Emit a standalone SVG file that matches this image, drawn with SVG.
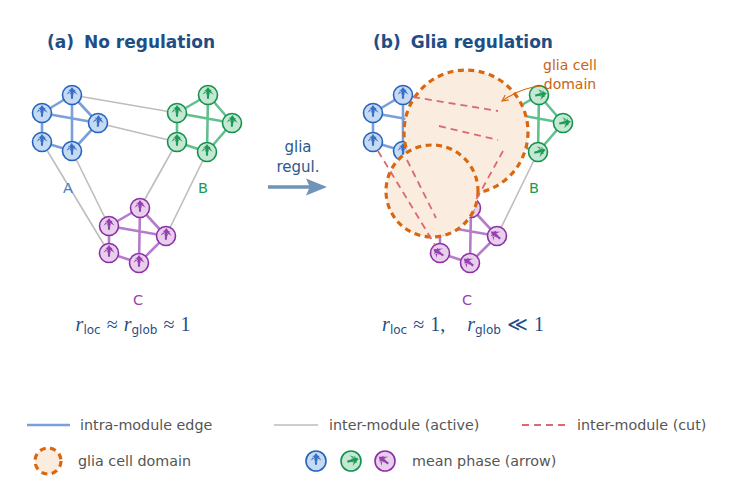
<svg xmlns="http://www.w3.org/2000/svg" xmlns:xlink="http://www.w3.org/1999/xlink" width="745" height="503" viewBox="0 0 745 503">
<style>
text{font-family:"DejaVu Sans","Liberation Sans",sans-serif}
.title{font-size:17px;font-weight:bold;fill:#1f4e85}
.lab{font-size:14.5px}
.leg{font-size:14.3px;fill:#555}
.fm{font-family:"Liberation Serif",serif;font-size:20px;fill:#1f4e85}
.sub{font-family:"DejaVu Sans",sans-serif;font-size:12px}
.gray{stroke:#bdbdbd;stroke-width:1.6;fill:none}
.cut{stroke:#d96a70;stroke-width:1.8;stroke-dasharray:7 5;fill:none}
.eb{stroke:#7aa0da;stroke-width:2.6;fill:none}
.eg{stroke:#62c08e;stroke-width:2.6;fill:none}
.ep{stroke:#b57ccb;stroke-width:2.6;fill:none}
.nb circle{fill:#c6dbf2;stroke:#2563bf;stroke-width:1.6}
.ng circle{fill:#c4e8d3;stroke:#13924c;stroke-width:1.6}
.np circle{fill:#e8d0ec;stroke:#8c2fa6;stroke-width:1.6}
.nb use{fill:#3a6fc6}.ng use{fill:#1f9a56}.np use{fill:#9440ae}
.glia{fill:#fbece0;stroke:#d9670f;stroke-width:3.2;stroke-dasharray:6 4.5}
</style>
<defs>
<path id="arr" d="M0,-9 L-5.6,-1.2 L-1.3,-3.9 L-1,2.8 L1,2.8 L1.3,-3.9 L5.6,-1.2 Z M-0.6,0.5 L-3.4,-6 L-2.6,-6.4 Z M0.6,0.5 L3.4,-6 L2.6,-6.4 Z"/>
<marker id="ah" viewBox="0 0 10 10" refX="9" refY="5" markerWidth="7" markerHeight="7" orient="auto-start-reverse"><path d="M1,1 L9,5 L1,9" fill="none" stroke="#d9670f" stroke-width="1.4"/></marker>
</defs>

<text class="title" x="47" y="48">(a)<tspan dx="10">No regulation</tspan></text>
<text class="title" x="373" y="48">(b)<tspan dx="10">Glia regulation</tspan></text>

<g id="connectors">
<!-- panel a inter -->
<line class="gray" x1="72" y1="95" x2="177" y2="113"/>
<line class="gray" x1="98" y1="123" x2="177" y2="142"/>
<line class="gray" x1="42" y1="142" x2="109" y2="253"/>
<line class="gray" x1="72" y1="151" x2="109" y2="226"/>
<line class="gray" x1="177" y1="142" x2="140" y2="208"/>
<line class="gray" x1="207" y1="152" x2="166" y2="236"/>
<!-- panel a intra -->
<path class="eb" d="M72,95 L42,113 M72,95 L98,123 M72,95 L72,151 M42,113 L98,123 M42,113 L42,142 M42,142 L72,151 M72,151 L98,123"/>
<path class="eg" d="M208,95 L177,113 M208,95 L232,123 M208,95 L207,152 M177,113 L232,123 M177,113 L177,142 M177,142 L207,152 M207,152 L232,123"/>
<path class="ep" d="M140,208 L109,226 M140,208 L166,236 M140,208 L139,263 M109,226 L166,236 M109,226 L109,253 M109,253 L139,263 M139,263 L166,236"/>
<!-- panel b active -->
<line class="gray" x1="538" y1="152" x2="497" y2="236"/>
<!-- panel b intra -->
<path class="eb" d="M403,95 L373,113 M403,95 L429,123 M403,95 L403,151 M373,113 L429,123 M373,113 L373,142 M373,142 L403,151 M403,151 L429,123"/>
<path class="eg" d="M539,95 L508,113 M539,95 L563,123 M539,95 L538,152 M508,113 L563,123 M508,113 L508,142 M508,142 L538,152 M538,152 L563,123"/>
<path class="ep" d="M471,208 L440,226 M471,208 L497,236 M471,208 L470,263 M440,226 L497,236 M440,226 L440,253 M440,253 L470,263 M470,263 L497,236"/>
</g>

<!-- panel a nodes -->
<g id="a_A" class="nb">
<g id="a_A1"><circle cx="72" cy="95" r="9.5"/><use href="#arr" transform="translate(72,96)"/></g>
<g id="a_A2"><circle cx="42" cy="113" r="9.5"/><use href="#arr" transform="translate(42,114)"/></g>
<g id="a_A3"><circle cx="98" cy="123" r="9.5"/><use href="#arr" transform="translate(98,124) rotate(4)"/></g>
<g id="a_A4"><circle cx="42" cy="142" r="9.5"/><use href="#arr" transform="translate(42,143)"/></g>
<g id="a_A5"><circle cx="72" cy="151" r="9.5"/><use href="#arr" transform="translate(72,152) rotate(-3)"/></g>
</g>
<g id="a_B" class="ng">
<g id="a_B1"><circle cx="208" cy="95" r="9.5"/><use href="#arr" transform="translate(208,96)"/></g>
<g id="a_B2"><circle cx="177" cy="113" r="9.5"/><use href="#arr" transform="translate(177,114)"/></g>
<g id="a_B3"><circle cx="232" cy="123" r="9.5"/><use href="#arr" transform="translate(232,124) rotate(3)"/></g>
<g id="a_B4"><circle cx="177" cy="142" r="9.5"/><use href="#arr" transform="translate(177,143)"/></g>
<g id="a_B5"><circle cx="207" cy="152" r="9.5"/><use href="#arr" transform="translate(207,153)"/></g>
</g>
<g id="a_C" class="np">
<g id="a_C1"><circle cx="140" cy="208" r="9.5"/><use href="#arr" transform="translate(140,209)"/></g>
<g id="a_C2"><circle cx="109" cy="226" r="9.5"/><use href="#arr" transform="translate(109,227)"/></g>
<g id="a_C3"><circle cx="166" cy="236" r="9.5"/><use href="#arr" transform="translate(166,237) rotate(3)"/></g>
<g id="a_C4"><circle cx="109" cy="253" r="9.5"/><use href="#arr" transform="translate(109,254)"/></g>
<g id="a_C5"><circle cx="139" cy="263" r="9.5"/><use href="#arr" transform="translate(139,264)"/></g>
</g>
<text class="lab" x="68" y="193" text-anchor="middle" fill="#4a7cc6">A</text>
<text class="lab" x="203" y="193" text-anchor="middle" fill="#1a9a55">B</text>
<text class="lab" x="138" y="305" text-anchor="middle" fill="#9b3fb5">C</text>
<text class="fm" x="133" y="331" text-anchor="middle"><tspan font-style="italic">r</tspan><tspan class="sub" dy="3">loc</tspan><tspan dy="-3" dx="6">≈</tspan><tspan font-style="italic" dx="6">r</tspan><tspan class="sub" dy="3">glob</tspan><tspan dy="-3" dx="6">≈</tspan><tspan dx="6">1</tspan></text>

<!-- transition arrow -->
<g id="transition">
<text x="298" y="152" text-anchor="middle" font-size="15" fill="#2d5a8a">glia</text>
<text x="298" y="172" text-anchor="middle" font-size="15" fill="#2d5a8a">regul.</text>
<path d="M268,185.3 L309,185.3 L306,178.5 L327,187 L306,195.5 L309,188.7 L268,188.7 Z" fill="#7093b8"/>
</g>

<!-- panel b nodes -->
<g id="b_A" class="nb">
<g id="b_A1"><circle cx="403" cy="95" r="9.5"/><use href="#arr" transform="translate(403,96)"/></g>
<g id="b_A2"><circle cx="373" cy="113" r="9.5"/><use href="#arr" transform="translate(373,114)"/></g>
<g id="b_A3"><circle cx="429" cy="123" r="9.5"/><use href="#arr" transform="translate(429,124)"/></g>
<g id="b_A4"><circle cx="373" cy="142" r="9.5"/><use href="#arr" transform="translate(373,143)"/></g>
<g id="b_A5"><circle cx="403" cy="151" r="9.5"/><use href="#arr" transform="translate(403,152)"/></g>
</g>
<g id="b_B" class="ng">
<g id="b_B1"><circle cx="539" cy="95" r="9.5"/><use href="#arr" transform="translate(538,95) rotate(78)"/></g>
<g id="b_B2"><circle cx="508" cy="113" r="9.5"/><use href="#arr" transform="translate(507,113) rotate(78)"/></g>
<g id="b_B3"><circle cx="563" cy="123" r="9.5"/><use href="#arr" transform="translate(562,123) rotate(80)"/></g>
<g id="b_B4"><circle cx="508" cy="142" r="9.5"/><use href="#arr" transform="translate(507,142) rotate(78)"/></g>
<g id="b_B5"><circle cx="538" cy="152" r="9.5"/><use href="#arr" transform="translate(537,152) rotate(76)"/></g>
</g>
<g id="b_C" class="np">
<g id="b_C1"><circle cx="471" cy="208" r="9.5"/><use href="#arr" transform="translate(472,209) rotate(-55)"/></g>
<g id="b_C2"><circle cx="440" cy="226" r="9.5"/><use href="#arr" transform="translate(441,227) rotate(-55)"/></g>
<g id="b_C3"><circle cx="497" cy="236" r="9.5"/><use href="#arr" transform="translate(498,237) rotate(-52)"/></g>
<g id="b_C4"><circle cx="440" cy="253" r="9.5"/><use href="#arr" transform="translate(441,254) rotate(-58)"/></g>
<g id="b_C5"><circle cx="470" cy="263" r="9.5"/><use href="#arr" transform="translate(471,264) rotate(-55)"/></g>
</g>

<!-- glia domains -->
<g id="glia1"><circle class="glia" cx="466" cy="132" r="62"/></g>
<g id="glia2"><circle class="glia" cx="432" cy="191" r="46"/></g>

<g id="cut_connectors">
<line class="cut" x1="413" y1="97" x2="498" y2="111"/>
<line class="cut" x1="439" y1="126" x2="498" y2="140"/>
<line class="cut" x1="378" y1="151" x2="435" y2="245"/>
<line class="cut" x1="407" y1="160" x2="436" y2="218"/>
<line class="cut" x1="503" y1="151" x2="476" y2="200"/>
</g>

<text class="lab" x="534" y="193" text-anchor="middle" fill="#1a9a55">B</text>
<text class="lab" x="467" y="305" text-anchor="middle" fill="#9b3fb5">C</text>
<text class="fm" x="463" y="331" text-anchor="middle"><tspan font-style="italic">r</tspan><tspan class="sub" dy="3">loc</tspan><tspan dy="-3" dx="6">≈</tspan><tspan dx="6">1,</tspan><tspan font-style="italic" dx="22">r</tspan><tspan class="sub" dy="3">glob</tspan><tspan dy="-3" dx="6">≪</tspan><tspan dx="6">1</tspan></text>

<g id="glia_label">
<text x="570" y="70" text-anchor="middle" font-size="14" fill="#c8640f">glia cell</text>
<text x="570" y="89" text-anchor="middle" font-size="14" fill="#c8640f">domain</text>
<path d="M541,86 Q520,88 502,101" fill="none" stroke="#d9670f" stroke-width="1.1" marker-end="url(#ah)"/>
</g>

<!-- legend -->
<g id="legend">
<line x1="27" y1="425" x2="70" y2="425" stroke="#7aa0da" stroke-width="2.6"/>
<text class="leg" x="80" y="430">intra-module edge</text>
<line x1="274" y1="425" x2="318" y2="425" class="gray"/>
<text class="leg" x="329" y="430">inter-module (active)</text>
<line x1="522" y1="425" x2="567" y2="425" class="cut" stroke-dasharray="6 4"/>
<text class="leg" x="577" y="430">inter-module (cut)</text>
<circle cx="48" cy="461" r="13" class="glia" stroke-dasharray="5 4"/>
<text class="leg" x="78" y="466">glia cell domain</text>
<g class="nb"><circle cx="316" cy="461" r="10"/><use href="#arr" transform="translate(316,462)"/></g>
<g class="ng"><circle cx="351" cy="461" r="10"/><use href="#arr" transform="translate(350,461) rotate(75)"/></g>
<g class="np"><circle cx="385" cy="461" r="10"/><use href="#arr" transform="translate(386,462) rotate(-55)"/></g>
<text class="leg" x="412" y="466">mean phase (arrow)</text>
</g>
</svg>
